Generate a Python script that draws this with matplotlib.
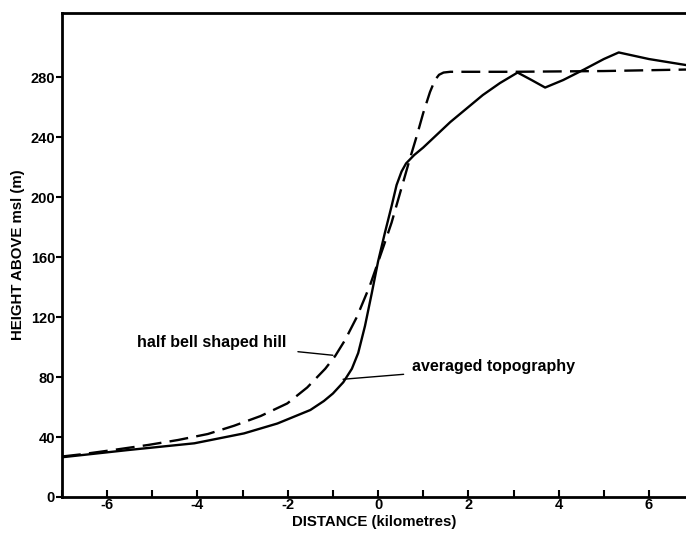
import matplotlib.pyplot as plt
from matplotlib.ticker import MultipleLocator

plt.rcParams['font.family'] = ['Liberation Sans', 'DejaVu Sans']
plt.rcParams['font.weight'] = 'bold'
plt.rcParams['axes.unicode_minus'] = False

# half bell shaped hill (dashed)
hill_x = [-7, -6.56, -5.83, -5.09, -4.43, -3.77, -3.19, -2.60, -2.01, -1.57, -1.17,
          -0.95, -0.73, -0.47, -0.18, 0.12, 0.30, 0.49, 0.70, 0.86, 1.0, 1.15,
          1.26, 1.35, 1.45, 1.6, 3.0, 5.0, 6.82]
hill_y = [27, 28.5, 31.5, 34.7, 38, 42, 47.5, 54, 62.4, 73, 85.5,
          94, 104.7, 120, 141, 167, 183, 203, 225, 241, 256, 270,
          278, 281.5, 283, 283.5, 283.5, 284, 285]

# averaged topography (solid)
topo_x = [-7, -5.54, -4.07, -2.97, -2.23, -1.50, -1.2, -1.0, -0.77, -0.58, -0.44,
          -0.29, -0.14, 0.0, 0.15, 0.30, 0.41, 0.52, 0.62, 0.8, 1.0, 1.6, 2.04,
          2.32, 2.7, 3.09, 3.4, 3.70, 4.1, 4.56, 5.0, 5.33, 6.0, 6.82]
topo_y = [26.5, 31.3, 35.8, 42.4, 49, 58, 64, 69, 76.5, 85.5, 96,
          114, 135.8, 157, 176, 194, 208, 217, 222.4, 228, 233, 250, 261,
          268, 276, 283, 278, 273, 278, 285, 292, 296.4, 292, 288]

y_ticks = [0, 40, 80, 120, 160, 200, 240, 280]
x_ticks = [-6, -4, -2, 0, 2, 4, 6]

fig = plt.figure(figsize=(6.86, 5.34), dpi=100)
ax = fig.add_axes([62 / 686, 37 / 534, 1 - 62 / 686, (497 - 13) / 534])

ax.plot(hill_x, hill_y, color='black', lw=1.7, dashes=(8, 3.5))
ax.plot(topo_x, topo_y, color='black', lw=1.7)

ax.set_xlim(-7, 6.82)
ax.set_ylim(0, 322.7)

ax.set_xticks(x_ticks)
ax.xaxis.set_minor_locator(MultipleLocator(1))
ax.set_yticks(y_ticks)
ax.tick_params(axis='x', which='both', direction='in', length=5, width=1.5,
               labelsize=10.5, pad=1)
ax.tick_params(axis='y', direction='out', length=4, width=1.5, labelsize=10.5, pad=1)

for s in ['left', 'bottom', 'top']:
    ax.spines[s].set_linewidth(2)
ax.spines['right'].set_visible(False)

ax.set_xlabel('DISTANCE (kilometres)', fontsize=10.8, fontweight='bold', labelpad=2)
ax.set_ylabel('HEIGHT ABOVE msl (m)', fontsize=10.8, fontweight='bold', labelpad=4)

# annotations with leader lines
ax.annotate('half bell shaped hill', xy=(-1.0, 94.5), xytext=(-2.02, 102.7),
            ha='right', va='center', fontsize=11.5, fontweight='bold',
            arrowprops=dict(arrowstyle='-', lw=1, color='black', shrinkA=6, shrinkB=0))
ax.annotate('averaged topography', xy=(-0.775, 78.5), xytext=(0.75, 86.7),
            ha='left', va='center', fontsize=11.5, fontweight='bold',
            arrowprops=dict(arrowstyle='-', lw=1, color='black', shrinkA=4, shrinkB=0))

plt.savefig('out.png', dpi=100)
